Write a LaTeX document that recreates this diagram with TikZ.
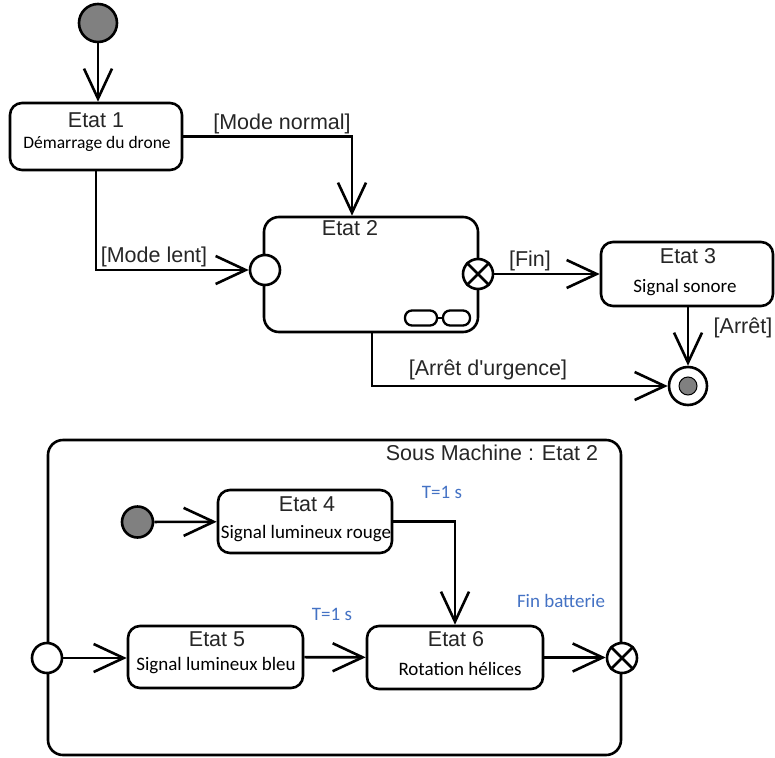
\documentclass[tikz,border=0pt]{standalone}
\usepackage{fontspec}
\setmainfont{Liberation Sans}
\newfontfamily\calib{Carlito}
\usetikzlibrary{arrows.meta}
\definecolor{txtblue}{HTML}{4472C4}
\definecolor{initgray}{HTML}{808080}
\begin{document}
\begin{tikzpicture}[x=1pt,y=-1pt,
 lw/.style={line width=2.6pt},
 state/.style={draw, lw, rounded corners=12pt, inner sep=0pt, fill=white},
 pseudo/.style={circle, draw, lw, fill=white, inner sep=0pt, minimum size=30pt},
 initstate/.style={circle, draw, lw, fill=initgray, inner sep=0pt},
 arr/.style={lw, -{Straight Barb[length=30pt, width=28pt, line width=2.6pt]}},
 ttl/.style={font=\fontsize{21.5}{24}\selectfont, text=black!85, anchor=base, inner sep=0pt},
 lbl/.style={ttl},
 desc/.style={font=\calib\fontsize{19}{22}\selectfont, text=black, anchor=base, inner sep=0pt},
 bluetxt/.style={font=\calib\fontsize{19}{22}\selectfont, text=txtblue, anchor=base, inner sep=0pt},
 glass/.style={draw, line width=2.3pt, rounded corners=7pt, minimum height=15pt, inner sep=0pt},
]
\useasboundingbox (0,0) rectangle (775,757);

% ---------- top diagram ----------
\node[initstate, minimum size=38pt] (i1) at (98,23) {};
\node[state, minimum width=172pt, minimum height=67pt] (e1) at (96,136.5) {};
\node[ttl] (e1t) at (96,127) {Etat 1};
\node[desc, font=\calib\fontsize{17.5}{20}\selectfont] (e1d) at (97,148) {Démarrage du drone};

\node[state, rounded corners=15pt, minimum width=214pt, minimum height=115pt] (e2) at (371,274.5) {};
\node[ttl] (e2t) at (350,235) {Etat 2};
\node[pseudo] (en2) at (265,270) {};
\node[pseudo] (ex2) at (478,274) {};
\draw[lw] (ex2.north west) -- (ex2.south east) (ex2.north east) -- (ex2.south west);
\node[glass, minimum width=32pt] (g1) at (421,318) {};
\node[glass, minimum width=27pt] (g2) at (456.5,318) {};
\draw[line width=2.3pt] (g1) -- (g2);

\node[state, minimum width=172pt, minimum height=64pt] (e3) at (687,274) {};
\node[ttl] (e3t) at (688,263) {Etat 3};
\node[desc] (e3d) at (685,292) {Signal sonore};

\node[circle, draw, lw, fill=white, minimum size=38pt, inner sep=0pt] (fin) at (688,386) {};
\node[circle, draw, line width=1pt, fill=initgray, minimum size=18pt, inner sep=0pt] (fin2) at (fin) {};

\draw[arr] (i1.south) -- (i1.south |- e1.north);
\draw[arr] (e1.east) -| ([xshift=-19pt]e2.north);
\draw[arr] (e1.south) |- (en2.west);
\draw[arr] (ex2) -- (e3);
\draw[arr] (e3.south -| fin) -- (fin.north);
\draw[arr] ([xshift=1pt]e2.south) |- (fin.west);

\node[lbl] (lnorm) at (282,129) {[Mode normal]};
\node[lbl] (llent) at (154,262) {[Mode lent]};
\node[lbl] (lfin) at (530,266) {[Fin]};
\node[lbl] (larret) at (743,333) {[Arrêt]};
\node[lbl] (lurg) at (488,375) {[Arrêt d\textquotesingle urgence]};

% ---------- sub machine ----------
\node[draw, lw, rounded corners=15pt, minimum width=573pt, minimum height=315pt, inner sep=0pt] (sm) at (334.5,597.5) {};
\node[lbl] (smt) at (492,460) {Sous Machine : Etat 2};

\node[initstate, minimum size=31pt] (i2) at (137.5,522) {};
\node[state, minimum width=174pt, minimum height=63pt] (e4) at (305,521.5) {};
\node[ttl] (e4t) at (307,511) {Etat 4};
\node[desc] (e4d) at (306,538) {Signal lumineux rouge};

\node[pseudo] (en3) at (47,658) {};
\node[state, minimum width=175pt, minimum height=62pt] (e5) at (215.5,657) {};
\node[ttl] (e5t) at (217,646) {Etat 5};
\node[desc] (e5d) at (216,670) {Signal lumineux bleu};

\node[state, minimum width=176pt, minimum height=63pt] (e6) at (455,657.5) {};
\node[ttl] (e6t) at (456,646) {Etat 6};
\node[desc] (e6d) at (460,675) {Rotation hélices};

\node[pseudo] (ex3) at (622,658) {};
\draw[lw] (ex3.north west) -- (ex3.south east) (ex3.north east) -- (ex3.south west);

\draw[arr] (i2) -- (e4);
\draw[arr] (e4.east) -| (e6.north);
\draw[arr] (en3) -- (en3 -| e5.west);
\draw[arr] (e5) -- (e6);
\draw[arr] (e6.east) -- (e6.east -| ex3.west);

\node[bluetxt] (t1) at (442,498) {T=1 s};
\node[bluetxt] (t2) at (332,620) {T=1 s};
\node[bluetxt] (fb) at (561,607) {Fin batterie};
\end{tikzpicture}
\end{document}
